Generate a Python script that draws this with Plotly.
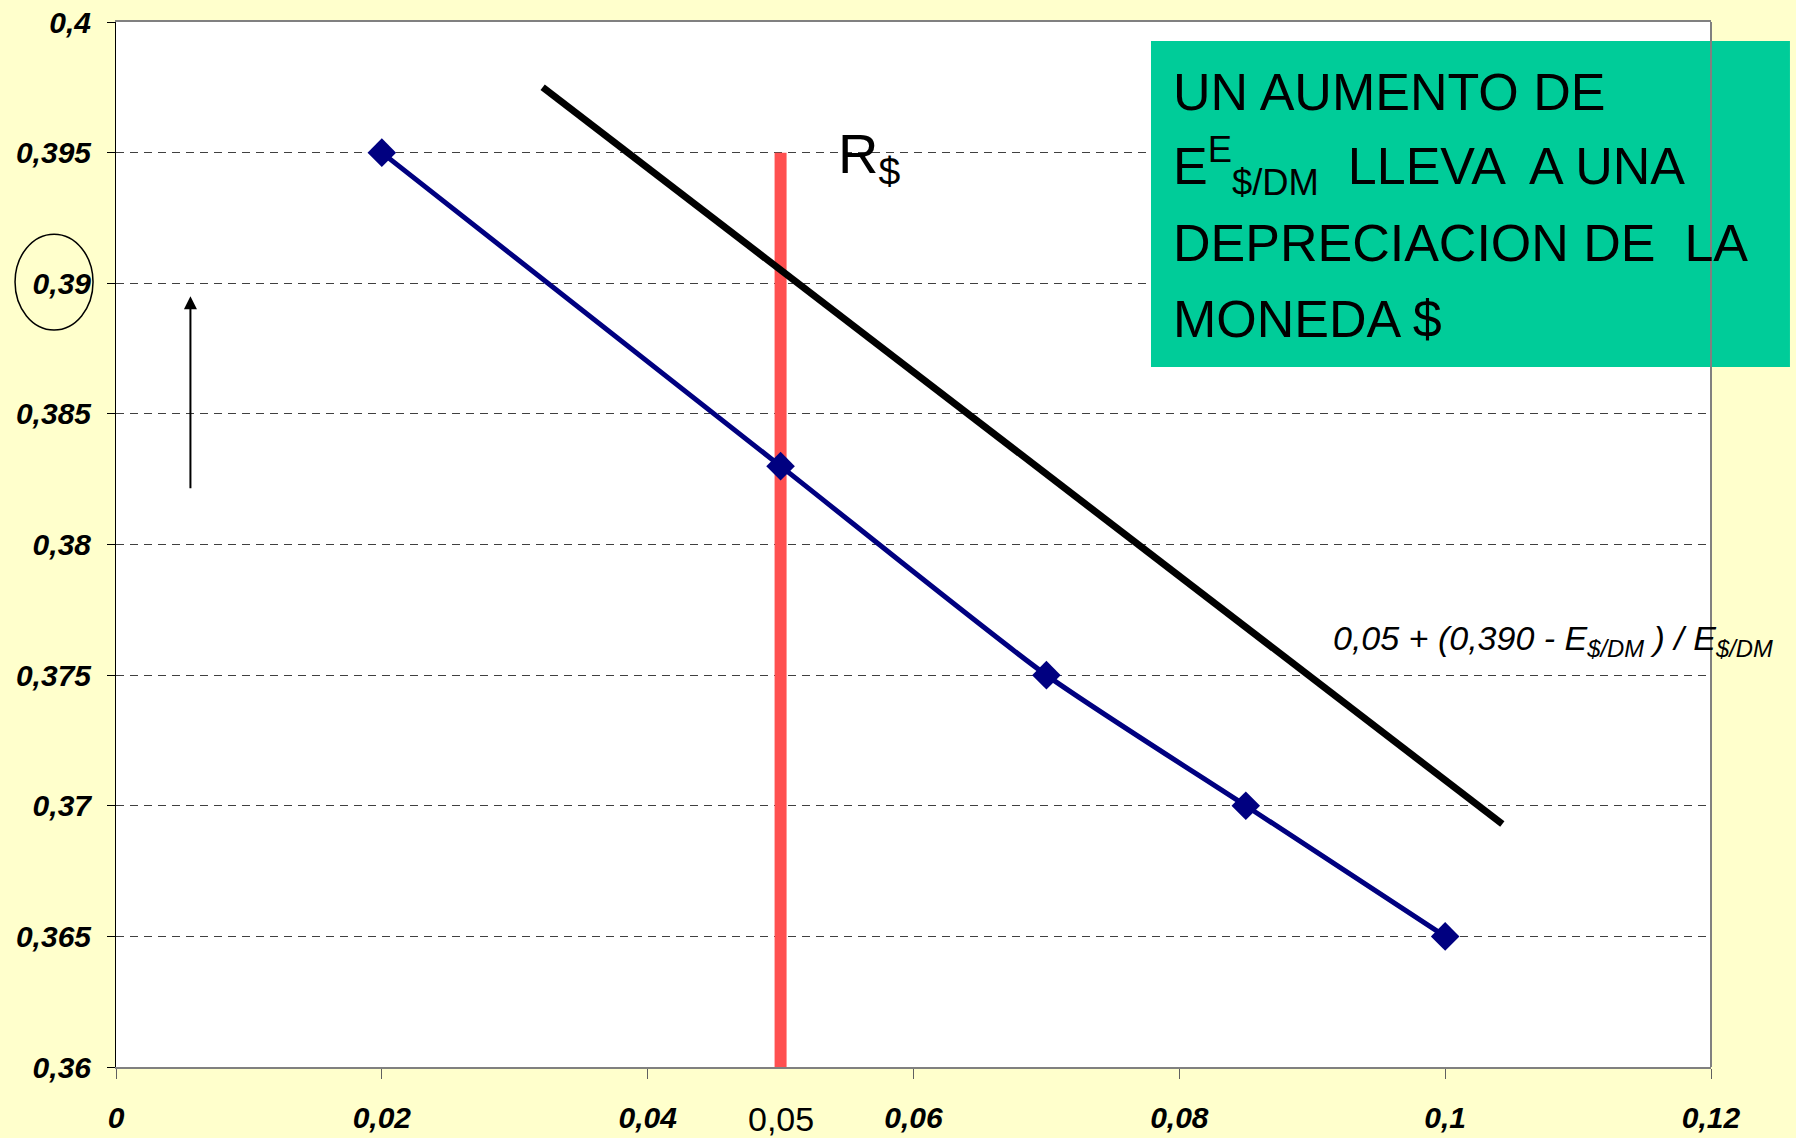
import plotly.graph_objects as go

# ---- data ----
demand_x = [0.02, 0.05, 0.07, 0.085, 0.10]
demand_y = [0.395, 0.383, 0.375, 0.370, 0.365]

shift_x = [0.0321, 0.1043]
shift_y = [0.3975, 0.3693]

rate_x = [0.05, 0.05]
rate_y = [0.36, 0.395]

arrow_x = 0.0056
arrow_tail_y = 0.3821
arrow_head_y = 0.3895

y_ticks = [0.36, 0.365, 0.37, 0.375, 0.38, 0.385, 0.39, 0.395, 0.40]
y_ticktext = ["0,36", "0,365", "0,37", "0,375", "0,38", "0,385", "0,39", "0,395", "0,4"]
x_ticks = [0, 0.02, 0.04, 0.06, 0.08, 0.10, 0.12]
x_ticktext = ["0", "0,02", "0,04", "0,06", "0,08", "0,1", "0,12"]

box_lines = [
    "UN AUMENTO DE",
    "E<sup>E</sup><sub>$/DM</sub>  LLEVA  A UNA",
    "DEPRECIACION DE  LA",
    "MONEDA $",
]
formula_text = "0,05 + (0,390 - E<sub>$/DM</sub> ) / E<sub>$/DM</sub>"

NARROW = "Liberation Sans Narrow, Arial Narrow, Liberation Sans, Arial, sans-serif"

fig = go.Figure()

fig.add_trace(go.Scatter(
    x=rate_x, y=rate_y, mode="lines",
    line=dict(color="#FF5050", width=12), showlegend=False, hoverinfo="skip"))

fig.add_trace(go.Scatter(
    x=shift_x, y=shift_y, mode="lines",
    line=dict(color="black", width=7), showlegend=False, hoverinfo="skip"))

fig.add_trace(go.Scatter(
    x=demand_x, y=demand_y, mode="lines+markers",
    line=dict(color="#000080", width=5, shape="spline", smoothing=0.6),
    marker=dict(symbol="diamond", size=22, color="#000080"),
    showlegend=False, hoverinfo="skip"))

# green text box
fig.add_shape(type="rect", xref="paper", yref="paper",
              x0=0.6489, x1=1.0495, y0=0.6699, y1=0.9818,
              fillcolor="#00CC99", line=dict(width=0), layer="above")

line_y = [0.9328, 0.8618, 0.7885, 0.7159]
for txt, yy in zip(box_lines, line_y):
    fig.add_annotation(xref="paper", yref="paper", x=0.6614, y=yy,
                       xanchor="left", yanchor="middle", showarrow=False,
                       text=txt, font=dict(family=NARROW, size=52, color="black"))

# ellipse around 0,39 label
fig.add_shape(type="circle", xref="paper", yref="paper",
              x0=-0.0633, x1=-0.0144, y0=0.7053, y1=0.797,
              line=dict(color="black", width=1.5))

# right border
fig.add_shape(type="line", xref="paper", yref="paper",
              x0=1, x1=1, y0=0, y1=1, line=dict(color="#808080", width=2))

# arrow
fig.add_annotation(x=arrow_x, y=arrow_head_y, ax=arrow_x, ay=arrow_tail_y,
                   xref="x", yref="y", axref="x", ayref="y",
                   showarrow=True, arrowhead=2, arrowsize=1.3, arrowwidth=2,
                   arrowcolor="black", text="")

# R$ label
fig.add_annotation(x=0.0542, y=0.3948, xref="x", yref="y",
                   xanchor="left", yanchor="middle", showarrow=False,
                   text="R<sub>$</sub>",
                   font=dict(family=NARROW, size=56, color="black"))

# formula label
fig.add_annotation(xref="paper", yref="paper", x=0.7615, y=0.4078,
                   xanchor="left", yanchor="middle", showarrow=False,
                   text=formula_text,
                   font=dict(family=NARROW, size=34, color="black", style="italic"))

# 0,05 label
fig.add_annotation(x=0.05, xref="x", yref="paper", y=-0.05,
                   xanchor="center", yanchor="middle", showarrow=False,
                   text="0,05",
                   font=dict(family=NARROW, size=34, color="black"))

tickfont = dict(family=NARROW, size=30, color="black", weight="bold", style="italic")

fig.update_xaxes(range=[0, 0.12], tickvals=x_ticks, ticktext=x_ticktext,
                 showgrid=False, zeroline=False, automargin=False,
                 showline=True, linecolor="#808080", linewidth=2, mirror=True,
                 ticks="outside", ticklen=10, tickcolor="#606060", tickwidth=1,
                 tickfont=tickfont, ticklabelstandoff=13)
fig.update_yaxes(range=[0.36, 0.40], tickvals=y_ticks, ticktext=y_ticktext,
                 showgrid=True, gridcolor="#404040", gridwidth=1, griddash="8px,6px",
                 zeroline=False, automargin=False,
                 showline=True, linecolor="black", linewidth=1,
                 ticks="outside", ticklen=8, tickcolor="black", tickwidth=1,
                 tickfont=tickfont, ticklabelstandoff=10)

fig.update_layout(
    width=1796, height=1138,
    margin=dict(l=116, r=85, t=22, b=71, autoexpand=False),
    paper_bgcolor="#FFFFCC", plot_bgcolor="white",
    showlegend=False,
)

fig.write_html("out.html",
               config={"displayModeBar": False},
               post_script="document.body.style.margin='0';document.body.style.overflow='hidden';")
